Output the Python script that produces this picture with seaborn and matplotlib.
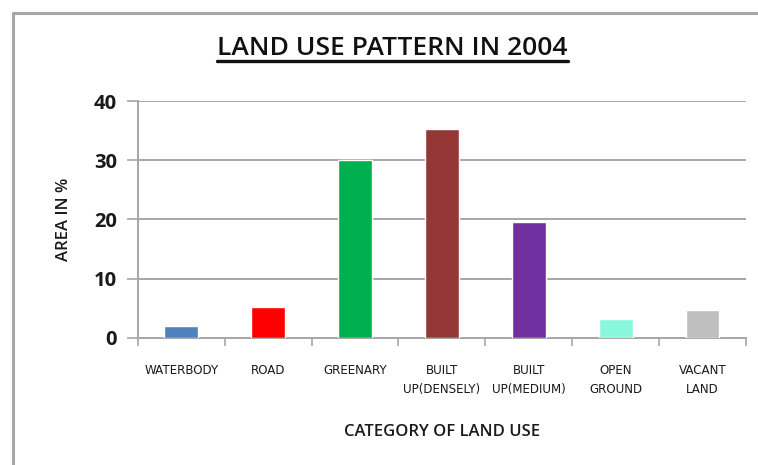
import matplotlib
matplotlib.use("Agg")
import matplotlib.pyplot as plt
from matplotlib.lines import Line2D
import seaborn as sns
import pandas as pd

# Land use categories and their share of total area (%)
categories = ["WATERBODY", "ROAD", "GREENARY", "BUILT\nUP(DENSELY)",
              "BUILT\nUP(MEDIUM)", "OPEN\nGROUND", "VACANT\nLAND"]
area_pct = [2.0, 5.1, 30.0, 35.4, 19.5, 3.2, 4.6]
bar_colors = ["#4F81BD", "#FF0000", "#00B050", "#953735",
              "#7030A0", "#88F7DC", "#BFBFBF"]
y_ticks = [0, 10, 20, 30, 40]

df = pd.DataFrame({"category": categories, "area": area_pct})

sns.set_theme(style="white")
plt.rcParams["font.family"] = ["Open Sans", "DejaVu Sans"]

fig = plt.figure(figsize=(7.58, 4.65), dpi=100)
ax = fig.add_axes([0.182, 0.274, 0.802, 0.508])

sns.barplot(data=df, x="category", y="area", hue="category",
            palette=bar_colors, width=0.39, legend=False,
            saturation=1, ax=ax, zorder=3)

grid_c = "#a6a6a6"
text_c = "#1a1a1a"
ax.set_ylim(0, 40)
ax.set_xlim(-0.5, len(categories) - 0.5)
ax.set_yticks(y_ticks)
ax.set_yticklabels([str(t) for t in y_ticks], fontsize=14.5,
                   fontweight="bold", color=text_c)
ax.yaxis.grid(True, color=grid_c, linewidth=1.4, zorder=0)
ax.set_axisbelow(True)

# category boundaries carry the tick marks, labels sit at bar centres
ax.set_xticks([i - 0.5 for i in range(len(categories) + 1)])
ax.set_xticklabels([])
ax.set_xticks(range(len(categories)), minor=True)
ax.set_xticklabels(categories, minor=True, fontsize=8.6,
                   family="DejaVu Sans", color=text_c, linespacing=1.6)
ax.tick_params(axis="x", which="major", length=6, width=1.2,
               color=grid_c, direction="out", bottom=True)
ax.tick_params(axis="x", which="minor", length=0, pad=19)
ax.tick_params(axis="y", length=8, width=1.2, color=grid_c,
               direction="out", left=True, pad=7)

for side in ["top", "right"]:
    ax.spines[side].set_visible(False)
for side in ["left", "bottom"]:
    ax.spines[side].set_color(grid_c)
    ax.spines[side].set_linewidth(1.4)

ax.set_xlabel("CATEGORY OF LAND USE", fontsize=12, fontweight="semibold",
              color=text_c, labelpad=20)
ax.set_ylabel("AREA IN %", fontsize=12, fontweight="semibold",
              color=text_c, labelpad=16)

title = fig.text(0.518, 0.895, "LAND USE PATTERN IN 2004", ha="center",
                 va="center", fontsize=19, fontweight="semibold",
                 color="#111111")
fig.canvas.draw()
bb = title.get_window_extent()
inv = fig.transFigure.inverted()
(x0, y0), (x1, y1) = inv.transform([[bb.x0, bb.y0], [bb.x1, bb.y1]])
fig.add_artist(Line2D([x0, x1], [y0 + 0.001, y0 + 0.001], color="#111111",
                      linewidth=2.4, transform=fig.transFigure))

# chart-area frame
fig.add_artist(Line2D([13 / 758, 1.0], [1 - 13 / 465, 1 - 13 / 465],
                      color=grid_c, linewidth=2.2, transform=fig.transFigure))
fig.add_artist(Line2D([13 / 758, 13 / 758], [0.0, 1 - 13 / 465],
                      color=grid_c, linewidth=2.2, transform=fig.transFigure))

fig.savefig("out.png", dpi=100, facecolor="white")
